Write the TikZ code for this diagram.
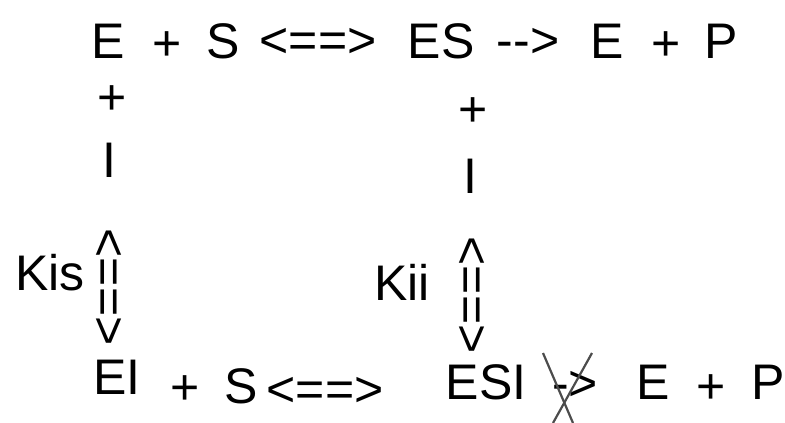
\documentclass[tikz,border=0pt]{standalone}
\usepackage{fontspec}
\setmainfont{Liberation Sans}
\begin{document}
\begin{tikzpicture}[x=1pt,y=-1pt,
  tok/.style={inner sep=0pt, outer sep=0pt, font=\fontsize{50}{60}\selectfont},
  cross/.style={line width=2.2pt, black!70}]
\useasboundingbox[fill=white] (0,0) rectangle (785,423);
% top row
\node[tok] (e1) at (108,41) {E};
\node[tok] (p1) at (167,46) {+};
\node[tok] (s1) at (223,41) {S};
\node[tok] (eq1) at (318,43) {<==>};
\node[tok] (es) at (441,41) {ES};
\node[tok] (ar1) at (528,43) {-\kern0pt-\kern0pt>};
\node[tok] (e2) at (607,41) {E};
\node[tok] (p2) at (666,46) {+};
\node[tok] (pr1) at (721,41) {P};
% left column
\node[tok] (p3) at (112,100) {+};
\node[tok] (i1) at (109,160) {I};
\node[tok,rotate=-90] (eq2) at (107,287) {<==>};
\node[tok] (kis) at (50,273) {Kis};
% right column
\node[tok] (p4) at (473,112) {+};
\node[tok] (i2) at (470,176) {I};
\node[tok,rotate=-90] (eq3) at (470,295) {<==>};
\node[tok] (kii) at (402,282) {Kii};
% bottom row
\node[tok] (ei) at (117,377) {EI};
\node[tok] (p5) at (185,390) {+};
\node[tok] (s2) at (241,386) {S};
\node[tok] (eq4) at (325,392) {<==>};
\node[tok] (esi) at (486,382) {ESI};
\node[tok] (ar2) at (575,386) {-\kern0pt>};
\node[tok] (e3) at (653,382) {E};
\node[tok] (p6) at (711,389) {+};
\node[tok] (pr2) at (768,382) {P};
% crossing out
\coordinate (xa1) at (543,353);
\coordinate (xa2) at (573,423);
\coordinate (xb1) at (592,353);
\coordinate (xb2) at (553,423);
\draw[cross] (xa1) -- (xa2);
\draw[cross] (xb1) -- (xb2);
\end{tikzpicture}
\end{document}
